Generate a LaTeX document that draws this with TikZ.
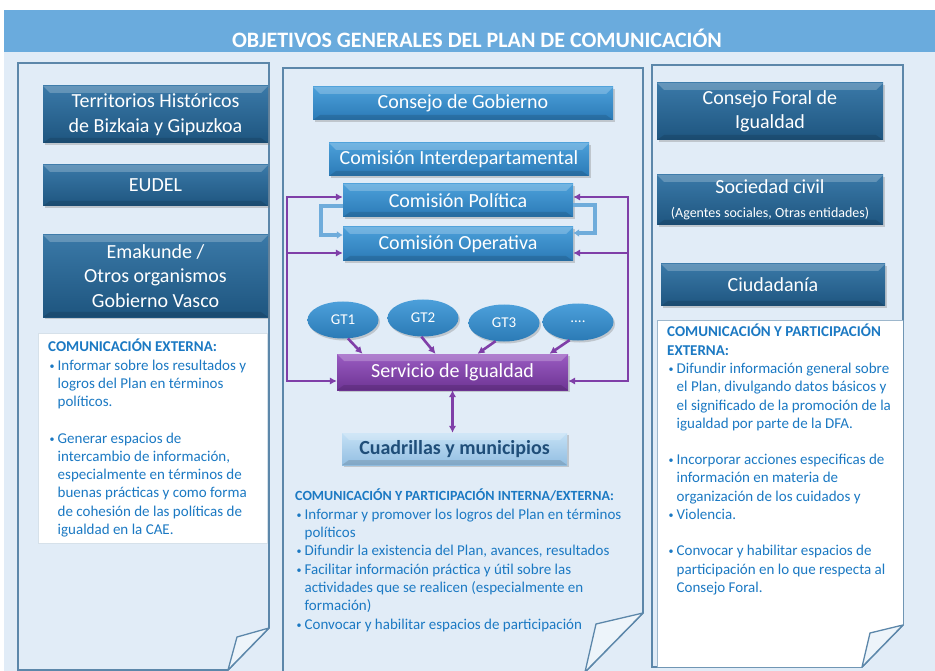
\documentclass[tikz,border=0pt]{standalone}
\usepackage{fontspec}
\setmainfont{Carlito}
\usetikzlibrary{shadows,arrows.meta,shapes.geometric}

\definecolor{bandblue}{HTML}{6AABDD}
\definecolor{paleblue}{HTML}{E1ECF7}
\definecolor{edgeblue}{HTML}{5C87AA}
\definecolor{purpleline}{HTML}{7F3FA8}
\definecolor{loopblue}{HTML}{6FACDB}
\definecolor{textblue}{HTML}{1B79C3}
\definecolor{cuadtext}{HTML}{1F4E79}
\definecolor{darktop}{HTML}{3A79A8}
\definecolor{darkbot}{HTML}{1E557F}
\definecolor{midtop}{HTML}{4CA0DA}
\definecolor{midbot}{HTML}{2B7AB6}
\definecolor{purptop}{HTML}{9A5CC2}
\definecolor{purpbot}{HTML}{6E3494}
\definecolor{cuadtop}{HTML}{C4E0F5}
\definecolor{cuadbot}{HTML}{93BFE2}

\newcommand{\bl}{\makebox[9.5pt][l]{\hspace{1.5pt}\raisebox{1pt}{\fontsize{10}{10}\selectfont\textbullet}}}
\newcommand{\ind}{\hspace*{9.5pt}}
\newcommand{\fourdots}{....}

\tikzset{
  panel/.style={draw=edgeblue, line width=1.6pt, fill=paleblue},
  curl/.style={draw=edgeblue, line width=1.3pt, fill=paleblue!60!white, line join=round},
  bevel/.style={path picture={
    \fill[white, opacity=0.22] (path picture bounding box.north west) -- (path picture bounding box.north east)
      -- ([xshift=-7pt,yshift=-7pt]path picture bounding box.north east)
      -- ([xshift=7pt,yshift=-7pt]path picture bounding box.north west) -- cycle;
    \fill[black, opacity=0.12] (path picture bounding box.south west) -- (path picture bounding box.south east)
      -- ([xshift=-7pt,yshift=5pt]path picture bounding box.south east)
      -- ([xshift=7pt,yshift=5pt]path picture bounding box.south west) -- cycle;}},
  entity/.style={inner sep=0pt, align=center, text=white,
    drop shadow={opacity=0.35, shadow xshift=1.5pt, shadow yshift=-2pt},
    font=\fontsize{20}{24.5}\selectfont},
  darkrect/.style={entity, bevel, rectangle, top color=darktop, bottom color=darkbot},
  midrect/.style={entity, bevel, rectangle, top color=midtop, bottom color=midbot},
  gtoval/.style={entity, ellipse, top color=midtop, bottom color=midbot,
    font=\fontsize{15}{18}\selectfont},
  purprect/.style={entity, bevel, rectangle, top color=purptop, bottom color=purpbot},
  cuadrect/.style={entity, bevel, rectangle, top color=cuadtop, bottom color=cuadbot,
    text=cuadtext, font=\fontsize{20}{24}\selectfont\bfseries},
  bodytext/.style={inner sep=0pt, anchor=north west, align=left, text=textblue,
    font=\fontsize{15}{18.3}\selectfont},
  parrow/.style={draw=purpleline, line width=2.6pt, -{Latex[length=7pt,width=7.5pt]}},
  pboth/.style={parrow, {Latex[length=7pt,width=7.5pt]}-{Latex[length=7pt,width=7.5pt]}},
  larrow/.style={draw=loopblue, line width=3.4pt, -{Latex[length=6pt,width=8pt]}}
}

\begin{document}
\begin{tikzpicture}[x=1pt,y=-1pt]
\useasboundingbox (0,0) rectangle (935,671);
\fill[paleblue] (4,10) rectangle (935,671);
\fill[bandblue] (4,10) rectangle (935,52);
\node[text=white, font=\fontsize{22}{26}\selectfont\bfseries] (title) at (477,38)
  {OBJETIVOS GENERALES DEL PLAN DE COMUNICACIÓN};

\draw[panel] (18,63) -- (269,63) -- (269,628) -- (228,670) -- (18,670) -- cycle;
\draw[curl] (269,628) -- (237,637) -- (228,670) -- cycle;
\draw[panel] (283,68) -- (643,68) -- (643,613) -- (585,672) -- (283,672) -- cycle;
\draw[curl] (643,613) -- (596,624) -- (585,672) -- cycle;
\draw[panel] (652,65) -- (903,65) -- (903,625) -- (862,667) -- (652,667) -- cycle;
\fill[white] (657,320) -- (903,320) -- (903,625) -- (862,667) -- (657,667) -- cycle;
\draw[edgeblue!60, line width=0.6pt] (657,667) -- (657,320) -- (903,320);
\draw[curl] (903,625) -- (870,633) -- (862,667) -- cycle;
\draw[fill=white, draw=edgeblue!25] (38,333) rectangle (267,543);

\foreach \n/\y/\h/\t in {terr/114.5/57/{Territorios Históricos\\de Bizkaia y Gipuzkoa},
    eudel/185.5/41/EUDEL, emak/276/82/{Emakunde /\\Otros organismos\\Gobierno Vasco}}
  \node[darkrect, minimum width=225, minimum height=\h] (\n) at (155.5,\y) {\t};

\node[midrect, minimum width=300, minimum height=33] (cons) at (463,103.5) {Consejo de Gobierno};
\node[midrect, minimum width=260, minimum height=33] (inter) at (459,159.5) {Comisión Interdepartamental};
\node[midrect, minimum width=230, minimum height=33] (pol) at (458,200.5) {Comisión Política};
\node[midrect, minimum width=230, minimum height=34] (oper) at (458,244) {Comisión Operativa};

\foreach \n/\x/\y/\t in {1/343/320/GT1, 2/423/318/GT2, 3/504/323/GT3, 4/578/322/\fourdots}
  \node[gtoval, minimum width=71, minimum height=37] (gt\n) at (\x,\y) {\t};

\node[purprect, minimum width=231, minimum height=36] (serv) at (452.5,372) {Servicio de Igualdad};
\node[cuadrect, minimum width=225, minimum height=32] (cuad) at (454.5,449) {Cuadrillas y municipios};

\node[darkrect, minimum width=226, minimum height=57] (foral) at (770,111.5) {Consejo Foral de\\Igualdad};
\node[darkrect, minimum width=226, minimum height=50] (soc) at (770,200)
  {Sociedad civil\\{\fontsize{14}{16}\selectfont (Agentes sociales, Otras entidades)}};
\node[darkrect, minimum width=224, minimum height=42] (ciud) at (773,285) {Ciudadanía};

\foreach \n/\a/\s in {1/-75/-90, 2/-95/-17, 3/-115/25, 4/-115/97}
  \draw[parrow] (gt\n.\a) -- ([xshift=\s pt]serv.north);

\coordinate (lbus) at (287,0);
\coordinate (rbus) at (628,0);
\coordinate (polw) at ([yshift=3.5pt]pol.west);
\coordinate (pole) at ([yshift=3.5pt]pol.east);
\coordinate (operw) at ([yshift=-9pt]oper.west);
\coordinate (opere) at ([yshift=-9pt]oper.east);
\coordinate (servw) at ([yshift=-9pt]serv.west);
\coordinate (serve) at ([yshift=-9pt]serv.east);
\draw[pboth] (polw) -| (lbus |- servw) -- (servw);
\draw[parrow] (lbus |- operw) -- (operw);
\draw[pboth] (pole) -| (rbus |- serve) -- (serve);
\draw[parrow] (rbus |- opere) -- (opere);

\coordinate (loopl) at (321,0);
\coordinate (loopr) at (595,0);
\coordinate (polwl) at ([yshift=-5.5pt]pol.west);
\coordinate (polel) at ([yshift=-4.5pt]pol.east);
\coordinate (operwl) at ([yshift=9pt]oper.west);
\coordinate (operel) at ([yshift=11pt]oper.east);
\draw[larrow] (polwl) -| (loopl |- operwl) -- (operwl);
\draw[larrow] (polel) -| (loopr |- operel) -- (operel);

\draw[pboth] (serv.south) -- (serv.south |- cuad.north);

\node[bodytext] (lefttext) at (48,339) {%
  \textbf{COMUNICACIÓN EXTERNA:}\\
  \bl Informar sobre los resultados y\\
  \ind logros del Plan en términos\\
  \ind políticos.\\[18pt]
  \bl Generar espacios de\\
  \ind intercambio de información,\\
  \ind especialmente en términos de\\
  \ind buenas prácticas y como forma\\
  \ind de cohesión de las políticas de\\
  \ind igualdad en la CAE.};

\node[bodytext] (midtext) at (295,489) {%
  {\fontsize{14}{17}\selectfont\bfseries COMUNICACIÓN Y PARTICIPACIÓN INTERNA/EXTERNA:}\\
  \bl Informar y promover los logros del Plan en términos\\
  \ind políticos\\
  \bl Difundir la existencia del Plan, avances, resultados\\
  \bl Facilitar información práctica y útil sobre las\\
  \ind actividades que se realicen (especialmente en\\
  \ind formación)\\
  \bl Convocar y habilitar espacios de participación};

\node[bodytext] (righttext) at (667,324) {%
  \textbf{COMUNICACIÓN Y PARTICIPACIÓN}\\
  \textbf{EXTERNA:}\\
  \bl Difundir información general sobre\\
  \ind el Plan, divulgando datos básicos y\\
  \ind el significado de la promoción de la\\
  \ind igualdad por parte de la DFA.\\[18pt]
  \bl Incorporar acciones especificas de\\
  \ind información en materia de\\
  \ind organización de los cuidados y\\
  \bl Violencia.\\[18pt]
  \bl Convocar y habilitar espacios de\\
  \ind participación en lo que respecta al\\
  \ind Consejo Foral.};
\end{tikzpicture}
\end{document}
